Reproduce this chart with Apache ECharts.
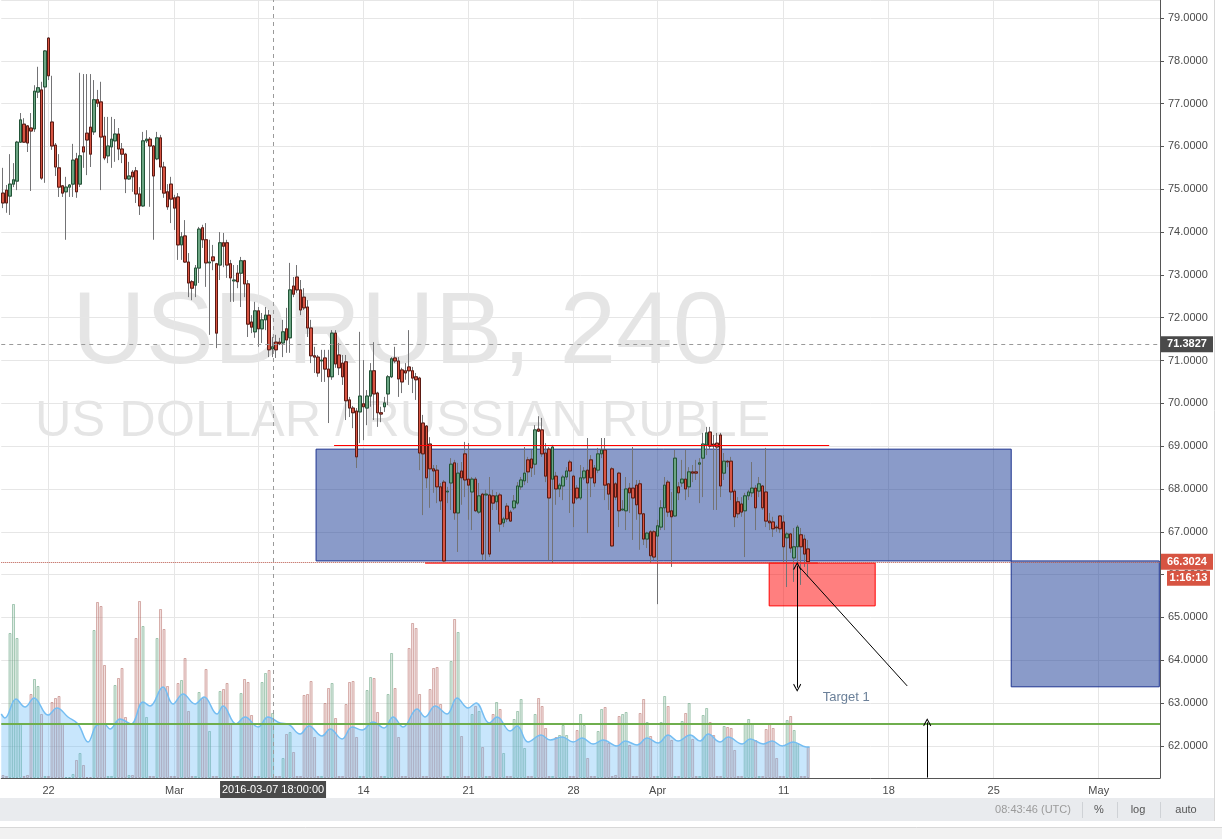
<!DOCTYPE html>
<html><head><meta charset="utf-8">
<script src="https://cdn.jsdelivr.net/npm/echarts@6/dist/echarts.min.js"></script>
<style>html,body{margin:0;padding:0;background:#fff;}#c{width:1222px;height:839px;}</style>
</head><body><div id="c"></div>
<script>
// ---- data (USDRUB 4h) : [open, close, low, high]
const candles = [
[74.91,74.68,74.56,75.50],[74.98,74.68,74.45,75.10],[74.84,75.12,74.40,75.82],[75.12,75.22,75.05,75.61],
[75.19,76.10,74.98,76.13],[76.10,76.62,76.08,76.78],[76.52,76.10,76.08,76.66],[76.48,76.08,75.87,76.50],
[76.43,76.36,74.96,76.78],[76.41,77.29,76.34,77.43],[77.27,77.37,77.13,77.86],[77.32,75.26,75.22,77.51],
[77.39,78.23,75.15,78.25],[78.53,77.65,77.55,78.55],[76.57,76.01,75.92,77.65],[76.03,75.52,75.31,76.08],
[75.50,75.05,74.82,75.82],[75.08,74.91,74.82,75.10],[74.94,75.05,73.82,75.29],[75.05,75.10,74.82,75.12],
[75.12,75.68,74.82,76.06],[75.71,74.94,74.80,75.85],[75.12,75.78,75.05,77.72],[75.99,75.87,75.50,77.69],
[76.31,76.15,75.33,77.69],[76.45,75.82,75.52,77.69],[76.34,77.09,76.27,77.55],[77.09,77.01,76.92,77.32],
[77.04,76.22,74.98,77.51],[76.24,75.73,75.68,76.69],[75.78,76.01,75.61,76.69],[75.99,76.17,75.50,76.69],
[76.13,76.29,75.64,76.64],[76.29,75.94,75.68,76.43],[75.94,75.82,75.61,76.08],[75.82,75.24,74.91,75.85],
[75.24,75.31,75.22,75.64],[75.40,75.29,74.94,75.45],[75.43,74.89,74.68,75.52],[74.89,74.61,74.40,75.05],
[74.61,76.13,74.59,76.34],[76.13,76.17,76.08,76.38],[76.17,76.01,74.59,76.22],[76.01,75.31,73.82,76.03],
[75.71,76.20,75.68,76.34],[76.20,75.52,74.98,76.27],[75.52,74.91,74.80,75.64],[74.94,74.59,74.52,75.12],
[75.12,74.77,74.21,75.29],[74.80,74.56,74.05,74.87],[74.82,73.70,73.35,74.91],[73.70,73.89,73.35,74.00],
[73.91,73.30,73.28,74.28],[73.30,72.81,72.48,73.51],[72.84,72.69,72.41,72.88],[72.76,73.16,72.48,73.23],
[73.16,74.07,72.81,74.12],[74.10,73.82,73.63,74.17],[73.82,73.28,72.72,74.21],[73.28,73.30,71.60,73.82],
[73.42,73.33,73.11,73.70],[73.26,71.64,71.29,73.28],[73.23,73.75,72.88,74.00],[73.75,73.67,73.18,73.98],
[73.75,73.23,72.93,73.82],[73.26,72.93,72.37,73.35],[72.86,72.88,72.37,73.23],[73.04,72.84,72.69,73.23],
[73.04,73.33,72.25,73.42],[73.33,72.79,72.48,73.35],[72.79,71.85,71.55,72.88],[71.90,71.78,71.64,72.06],
[71.67,72.16,71.53,72.37],[72.16,71.74,71.32,72.25],[71.74,71.95,71.41,72.11],[71.95,72.06,71.71,72.25],
[72.06,71.25,71.08,72.18],[71.27,71.32,71.08,71.55],[71.43,71.25,71.06,71.60],[71.43,71.39,71.36,71.53],
[71.41,71.67,71.08,71.95],[71.74,71.48,71.18,72.23],[71.53,72.65,71.18,73.28],[72.74,72.55,72.48,72.95],
[72.95,72.65,72.58,73.23],[72.65,72.18,72.06,72.88],[72.48,72.23,72.18,72.69],[72.25,71.76,71.55,72.41],
[71.76,71.11,70.94,71.95],[71.11,71.08,70.71,71.32],[71.08,70.71,70.62,71.13],[70.99,71.01,70.50,71.25],
[71.06,70.80,70.50,71.25],[70.80,70.62,69.54,71.25],[70.62,71.64,70.55,71.71],[71.64,70.92,70.83,71.71],
[71.13,70.83,70.66,71.41],[70.94,70.62,70.43,71.13],[70.97,70.06,69.61,71.13],[70.08,69.89,69.68,70.15],
[69.89,69.78,69.42,69.94],[69.82,68.75,68.49,69.89],[69.80,70.17,69.07,71.67],[69.99,69.92,69.14,71.01],
[69.89,70.17,69.49,70.31],[70.17,70.76,69.92,70.94],[70.76,70.22,69.61,71.43],[70.24,69.78,69.45,70.27],
[69.78,69.75,69.56,69.92],[69.92,70.01,69.80,70.15],[70.22,70.62,69.96,70.66],[70.62,71.04,70.59,71.08],
[71.06,70.99,70.94,71.32],[70.99,70.57,70.15,71.08],[70.78,70.50,70.24,70.83],[70.76,70.71,70.55,70.94],
[70.85,70.76,70.43,71.71],[70.76,70.59,70.24,70.85],[70.62,70.55,70.08,70.71],[70.59,68.84,68.44,70.62],
[69.54,68.82,67.39,69.73],[69.47,68.26,68.02,69.49],[69.05,68.47,67.56,69.21],[68.47,68.42,67.91,68.56],
[68.44,68.05,67.67,68.56],[68.05,67.72,67.51,68.14],[68.16,66.32,66.30,68.21],[67.93,67.95,67.67,68.05],
[68.14,68.58,67.51,68.72],[68.61,67.44,67.28,68.68],[67.44,68.37,66.53,68.61],[68.42,68.26,67.63,68.63],
[68.82,68.21,67.81,69.10],[68.23,68.09,67.28,69.07],[67.93,68.23,67.04,68.28],[68.23,67.49,67.46,68.28],
[67.46,67.84,67.42,68.14],[67.88,66.48,66.34,67.91],[67.86,67.88,66.34,67.98],[67.86,66.48,66.41,68.28],
[67.84,67.67,67.51,67.98],[67.70,67.84,67.51,67.93],[67.86,67.18,67.00,67.91],[67.21,67.30,67.11,67.35],
[67.60,67.30,67.23,67.67],[67.46,67.25,67.23,67.51],[67.56,67.72,67.51,67.86],[67.67,68.07,67.63,68.16],
[68.05,68.21,67.98,68.28],[68.19,68.37,68.09,68.98],[68.68,68.40,68.14,68.75],[68.70,68.49,68.28,68.91],
[68.58,69.38,68.33,69.49],[69.40,69.35,69.33,69.70],[69.38,68.82,68.75,69.66],[68.84,68.30,68.16,69.07],
[68.93,67.79,66.34,68.98],[68.23,68.98,66.27,69.03],[68.30,68.00,67.63,68.40],[68.00,68.09,67.81,68.14],
[68.07,68.28,67.74,68.33],[68.28,68.42,68.21,68.51],[68.63,68.42,67.44,68.68],[68.30,67.67,67.11,68.33],
[68.02,67.79,67.74,68.09],[67.79,68.26,67.74,68.56],[68.26,68.42,68.21,68.51],[68.44,68.14,66.97,69.19],
[68.68,68.26,67.81,68.79],[68.49,68.14,68.05,68.56],[68.44,68.82,68.37,68.96],[68.82,68.91,68.72,69.19],
[68.91,68.09,67.74,69.19],[68.12,67.88,67.51,68.14],[68.47,66.67,66.65,68.51],[68.12,67.81,67.74,68.16],
[68.37,67.49,67.11,68.40],[67.51,67.53,67.49,67.74],[67.49,68.00,67.04,68.28],[68.02,67.91,67.44,68.14],
[68.02,67.79,66.81,68.98],[68.09,67.63,67.28,68.21],[68.12,67.42,66.58,68.21],[67.42,66.83,66.69,67.44],
[66.83,66.97,66.62,67.00],[67.00,66.44,66.27,67.04],[67.00,66.41,66.34,67.04],[66.90,67.14,65.31,67.28],
[67.11,67.56,67.04,67.74],[67.56,68.09,67.04,68.28],[68.16,67.46,67.35,68.21],[67.49,67.35,66.18,67.93],
[67.37,68.72,67.35,68.91],[68.05,67.91,67.74,68.16],[68.14,68.23,68.05,68.68],[68.23,68.00,67.74,68.91],
[68.05,68.40,67.81,68.51],[68.40,68.37,68.16,68.56],[68.40,68.37,68.21,68.68],[68.58,68.61,67.67,68.72],
[68.72,69.05,67.81,69.31],[69.03,69.31,68.79,69.45],[69.33,69.00,68.91,69.45],[69.05,69.00,67.51,69.26],
[69.07,68.98,67.51,69.31],[69.26,68.07,67.81,69.31],[68.37,68.65,68.21,68.84],[68.65,68.63,68.51,68.68],
[68.65,67.93,67.74,68.75],[67.95,67.35,67.11,68.00],[67.70,67.42,67.32,67.81],[67.65,67.46,67.35,67.81],
[67.49,67.84,66.41,67.91],[67.84,67.93,67.74,67.98],[67.91,68.02,67.81,68.63],[68.02,67.56,67.04,68.09],
[67.95,68.12,67.81,68.28],[68.07,67.56,67.51,68.09],[67.93,67.25,67.11,68.96],[67.25,67.21,67.04,67.44],
[67.23,67.07,66.88,67.35],[67.11,67.09,67.00,67.16],[67.37,67.07,66.97,67.39],[67.23,66.65,66.27,67.39],
[66.86,66.95,65.71,67.00],[66.95,66.62,66.51,66.97],[66.39,66.65,65.83,67.09],[66.65,67.11,65.95,67.16],
[66.93,66.65,65.76,67.09],[66.83,66.48,66.18,66.93],[66.60,66.3024,65.95,66.81]
];
// volume per bar (relative units)
const volumes = [
3,2,145,174,140,54,2,3,84,99,92,64, 2,2,76,80,82,55,1,1,4,18,25,13,
1,1,148,176,172,113,2,2,93,100,110,61, 3,3,140,177,152,61,2,2,140,169,149,92,
2,2,95,98,120,67,2,2,86,80,109,47, 2,2,87,89,95,55,2,2,85,99,96,63,
2,2,96,105,108,65,2,2,20,44,46,26, 2,2,83,84,97,41,2,2,75,90,95,60,
2,2,74,96,97,41,2,2,88,101,100,66, 2,2,84,125,90,41,2,2,130,155,150,84,
2,2,89,110,111,74,2,2,117,159,146,42, 2,2,64,72,67,31,2,2,64,76,69,25,
2,2,59,67,79,30,2,2,64,80,72,50, 2,2,41,43,53,43,2,2,48,64,53,20,
2,2,47,69,71,35,2,3,62,64,66,33, 2,2,65,79,56,42,2,2,56,82,72,38,
2,2,57,65,75,39,2,2,63,70,56,43, 2,2,52,51,50,28,2,2,54,59,54,38,
2,2,49,55,50,20,2,2,58,62,48,35, 2,2,31
];
// smoothed volume overlay: [bar position, value]
const volumeAvg = [[-0.5,64],[0.57,60],[3.71,79],[6.29,71],[8.86,80],[12.86,63],[15.43,70],[18.57,61],[21.43,54],[24.29,36],
[26.86,53],[28.86,54],[30.57,49],[33.43,59],[36.57,54],[40,76],[42,72],[45.71,91],[48.57,74],[51.43,84],[54.86,74],[57.43,81],
[61.14,64],[62.86,72],[66.57,54],[69.14,61],[72.86,51],[75.71,61],[79.14,55],[81.43,54],[84.86,44],[87.43,52],[91.14,42],
[93.43,49],[96.86,39],[99.71,51],[102.57,48],[105.71,56],[108.86,50],[111.43,61],[114.29,51],[118.29,69],[120.57,61],
[123.43,72],[126.86,64],[129.71,80],[132.86,70],[135.14,75],[138.86,55],[141.14,61],[144.86,47],[146.86,52],[150,36],
[153.71,43],[156.29,38],[159.71,41],[162.86,36],[165.43,40],[168.57,34],[171.43,38],[175.43,32],[177.71,37],[181.14,33],
[184,40],[187.14,35],[190,43],[192.86,37],[196.29,43],[199.14,37],[201.43,44],[204.86,36],[207.14,41],[211.14,34],
[213.43,39],[217.14,34],[219.71,37],[222.57,32],[225.71,36],[229.43,31],[230.4,31]];
// x-axis ticks (bar slot index) and labels
const tickIndex  = [13, 49, 73, 103, 133, 163, 187, 223, 253, 283, 313];
const tickLabels = ['22','Mar','7','14','21','28','Apr','11','18','25','May'];
const slotCount = 331;
// drawings
const upperZone = [[89.43, 68.93], [288.0, 66.32]];
const lowerZone = [[288.0, 66.32], [330.3, 63.38]];
const redZone   = [[218.86, 66.27], [249.14, 65.27]];
const resistLine  = [[94.57, 69.03], [236.0, 69.03]];
const supportLine = [[120.57, 66.27], [232.86, 66.27]];
const arrowBoth = [[226.86, 66.20], [226.86, 63.36]];
const diagLine  = [[227.71, 66.16], [258.29, 63.40]];
const arrowUp   = [[264, 61.26], [264, 62.55]];
const targetPos = [234, 63.14];
const lastPrice = 66.3024, crossPrice = 71.3827, crossBar = 77.14, greenLevel = 62.51;
const crossTime = '2016-03-07 18:00:00', countdown = '1:16:13';

const cats = Array.from({length: slotCount}, (_, i) => String(i));
const tickSet = new Set(tickIndex);
const labelOf = {}; tickIndex.forEach((k, i) => labelOf[k] = tickLabels[i]);
const upC = '#6ba583', dnC = '#d75442', upB = '#225437', dnB = '#5b1a13', wickC = '#737375';
const chev = 'path://M5,0L10,9L9,10L5,2.4L1,10L0,9Z';
const FONT = 'Arial, "Liberation Sans", sans-serif';

const volData = volumes.map((v, i) => {
  const up = candles[i][1] >= candles[i][0];
  return {value: v, itemStyle: {
    color: up ? 'rgba(107,165,131,0.22)' : 'rgba(200,120,115,0.22)',
    borderColor: up ? 'rgba(107,165,131,0.55)' : 'rgba(180,105,100,0.5)', borderWidth: 1}};
});
const bodies = candles.map(c => [c[0], c[1], Math.min(c[0], c[1]), Math.max(c[0], c[1])]);

const chart = echarts.init(document.getElementById('c'), null, {renderer: 'canvas'});
const option = {
  animation: false,
  grid: [{left: 1.25, right: 62, top: 0, bottom: 61}, {left: 1.25, right: 62, top: 588, bottom: 61}],
  xAxis: [
    {type: 'category', gridIndex: 0, data: cats, boundaryGap: true,
     axisLine: {onZero: false, lineStyle: {color: '#555'}},
     axisTick: {interval: (i) => tickSet.has(i), alignWithLabel: true, length: 4, lineStyle: {color: '#555'}},
     axisLabel: {interval: (i) => tickSet.has(i), formatter: (v, i) => labelOf[i] || '', color: '#4a4a4a', fontSize: 11, fontFamily: FONT, margin: 7},
     splitLine: {show: false}},
    {type: 'value', gridIndex: 0, min: -0.5, max: slotCount - 0.5, show: false},
    {type: 'category', gridIndex: 1, data: cats, show: false},
    {type: 'value', gridIndex: 1, min: -0.5, max: slotCount - 0.5, show: false}
  ],
  yAxis: [
    {type: 'value', gridIndex: 0, position: 'right', min: 61.25, max: 79.42, minInterval: 1, maxInterval: 1,
     axisLine: {show: true, onZero: false, lineStyle: {color: '#555'}},
     axisTick: {show: true, length: 4, lineStyle: {color: '#555'}},
     axisLabel: {formatter: v => v.toFixed(4), color: '#4a4a4a', fontSize: 11, fontFamily: FONT, margin: 8, showMinLabel: false, showMaxLabel: false},
     splitLine: {show: true, lineStyle: {color: '#e6e6e6', width: 1}}},
    {type: 'value', gridIndex: 1, min: 0, max: 190, show: false}
  ],
  series: [
    {type: 'line', xAxisIndex: 1, yAxisIndex: 0, data: [], silent: true,
     markLine: {silent: true, z: 0, symbol: 'none', animation: false, label: {show: false},
       lineStyle: {color: '#e6e6e6', width: 1, type: 'solid'},
       data: tickIndex.map(k => ({xAxis: k}))},
     markArea: {silent: true, z: 1, animation: false, label: {show: false},
       data: [
         [{coord: upperZone[0], itemStyle: {color: 'rgba(21,55,147,0.5)', borderColor: '#1d3390', borderWidth: 1}}, {coord: upperZone[1]}],
         [{coord: lowerZone[0], itemStyle: {color: 'rgba(21,55,147,0.5)', borderColor: '#1d3390', borderWidth: 1}}, {coord: lowerZone[1]}],
         [{coord: redZone[0], itemStyle: {color: 'rgba(255,0,0,0.5)', borderColor: '#ff0000', borderWidth: 1}}, {coord: redZone[1]}]
       ]}},
    {type: 'bar', xAxisIndex: 2, yAxisIndex: 1, z: 2, barWidth: 3, data: volData, silent: true},
    {type: 'line', xAxisIndex: 3, yAxisIndex: 1, z: 3, data: volumeAvg, smooth: 0.4, showSymbol: false, symbol: 'none', silent: true,
     lineStyle: {color: '#74bdf2', width: 1.5}, areaStyle: {color: 'rgba(100,185,247,0.5)', origin: 'start'}},
    {type: 'candlestick', xAxisIndex: 0, yAxisIndex: 0, z: 4, barWidth: 3, data: candles, silent: true,
     itemStyle: {color: upC, color0: dnC, borderColor: wickC, borderColor0: wickC, borderWidth: 1}},
    {type: 'candlestick', xAxisIndex: 0, yAxisIndex: 0, z: 5, barWidth: 3, data: bodies, silent: true,
     itemStyle: {color: upC, color0: dnC, borderColor: upB, borderColor0: dnB, borderWidth: 1}},
    {type: 'line', xAxisIndex: 1, yAxisIndex: 0, data: [], silent: true,
     markLine: {silent: true, z: 6, symbol: 'none', symbolSize: 8, animation: false, label: {show: false},
       data: [
         [{coord: resistLine[0], lineStyle: {color: '#ff0000', width: 1, type: 'solid'}}, {coord: resistLine[1]}],
         [{coord: supportLine[0], lineStyle: {color: '#ff2020', width: 1.5, type: 'solid'}}, {coord: supportLine[1]}],
         {yAxis: lastPrice, lineStyle: {color: '#b8564a', width: 1, type: 'dotted'}},
         {yAxis: crossPrice, lineStyle: {color: '#9a9a9a', width: 1, type: [4, 4]}},
         {xAxis: crossBar, lineStyle: {color: '#9a9a9a', width: 1, type: [4, 4]}},
         {yAxis: greenLevel, lineStyle: {color: '#6fae4d', width: 2, type: 'solid'}},
         [{coord: arrowBoth[0], symbol: chev, symbolSize: 8, lineStyle: {color: '#000', width: 1, type: 'solid'}}, {coord: arrowBoth[1], symbol: chev, symbolSize: 8}],
         [{coord: diagLine[0], lineStyle: {color: '#000', width: 1, type: 'solid'}}, {coord: diagLine[1]}],
         [{coord: arrowUp[0], symbol: 'none', lineStyle: {color: '#000', width: 1, type: 'solid'}}, {coord: arrowUp[1], symbol: chev, symbolSize: 8}]
       ]},
     markPoint: {silent: true, z: 6, symbol: 'circle', symbolSize: 1, itemStyle: {color: 'rgba(0,0,0,0)'},
       data: [{coord: targetPos, label: {show: true, formatter: 'Target 1', position: 'right', distance: 0,
         color: '#6b8099', fontSize: 13, fontFamily: FONT}}]}}
  ],
  graphic: [
    {id: 'wm1', type: 'text', x: 72, y: 335, z: 0, silent: true,
     style: {text: 'USDRUB, 240', font: '102px ' + FONT, fill: 'rgba(0,0,0,0.1)', align: 'left', verticalAlign: 'middle'}},
    {id: 'wm2', type: 'text', x: 35, y: 422, z: 0, silent: true,
     style: {text: 'US DOLLAR / RUSSIAN RUBLE', font: '50.5px ' + FONT, fill: 'rgba(0,0,0,0.1)', align: 'left', verticalAlign: 'middle'}}
  ]
};
chart.setOption(option);

const yC = chart.convertToPixel({yAxisIndex: 0}, crossPrice);
const yL = chart.convertToPixel({yAxisIndex: 0}, lastPrice);
const xC = chart.convertToPixel({xAxisIndex: 1}, crossBar);
const txt = (id, x, y, s, font, fill, align) => ({id, type: 'text', x, y, z: 101, silent: true,
  style: {text: s, font, fill, align: align || 'center', verticalAlign: 'middle'}});
chart.setOption({graphic: [
  {id: 'tb', type: 'rect', z: 90, silent: true, shape: {x: 0, y: 798, width: 1214, height: 23}, style: {fill: '#e9ebee'}},
  {id: 'bb', type: 'rect', z: 90, silent: true, shape: {x: 0, y: 827, width: 1222, height: 12}, style: {fill: '#f1f1f1'}},
  {id: 'bl', type: 'line', z: 91, silent: true, shape: {x1: 0, y1: 827.5, x2: 1222, y2: 827.5}, style: {stroke: '#d8d8d8', lineWidth: 1}},
  {id: 'rb', type: 'line', z: 91, silent: true, shape: {x1: 1214.5, y1: 0, x2: 1214.5, y2: 821}, style: {stroke: '#d8d8d8', lineWidth: 1}},
  {id: 's1', type: 'line', z: 91, silent: true, shape: {x1: 1082.5, y1: 802, x2: 1082.5, y2: 818}, style: {stroke: '#cfd2d6', lineWidth: 1}},
  {id: 's2', type: 'line', z: 91, silent: true, shape: {x1: 1117.5, y1: 802, x2: 1117.5, y2: 818}, style: {stroke: '#cfd2d6', lineWidth: 1}},
  {id: 's3', type: 'line', z: 91, silent: true, shape: {x1: 1160.5, y1: 802, x2: 1160.5, y2: 818}, style: {stroke: '#cfd2d6', lineWidth: 1}},
  txt('t1', 1033, 810, '08:43:46 (UTC)', '11px ' + FONT, '#9b9b9b'),
  txt('t2', 1099, 810, '%', '11px ' + FONT, '#555'),
  txt('t3', 1138, 810, 'log', '11px ' + FONT, '#555'),
  txt('t4', 1186, 810, 'auto', '11px ' + FONT, '#555'),
  {id: 'xb', type: 'rect', z: 100, silent: true, shape: {x: xC - 53, y: 781, width: 106, height: 17}, style: {fill: '#4a4a4a'}},
  txt('xt', xC, 789.5, crossTime, '11px ' + FONT, '#fff'),
  {id: 'cb', type: 'rect', z: 100, silent: true, shape: {x: 1161, y: yC - 8, width: 52, height: 16}, style: {fill: '#4a4a4a'}},
  txt('ct', 1187, yC, crossPrice.toFixed(4), 'bold 11px ' + FONT, '#fff'),
  {id: 'lb', type: 'rect', z: 100, silent: true, shape: {x: 1161, y: yL - 8, width: 52, height: 16}, style: {fill: '#d75442'}},
  txt('lt', 1187, yL, lastPrice.toFixed(4), 'bold 11px ' + FONT, '#fff'),
  {id: 'db', type: 'rect', z: 100, silent: true, shape: {x: 1167, y: yL + 9, width: 43, height: 15}, style: {fill: '#d75442'}},
  txt('dt', 1188.5, yL + 16.5, countdown, 'bold 11px ' + FONT, '#fff')
]});
</script></body></html>
